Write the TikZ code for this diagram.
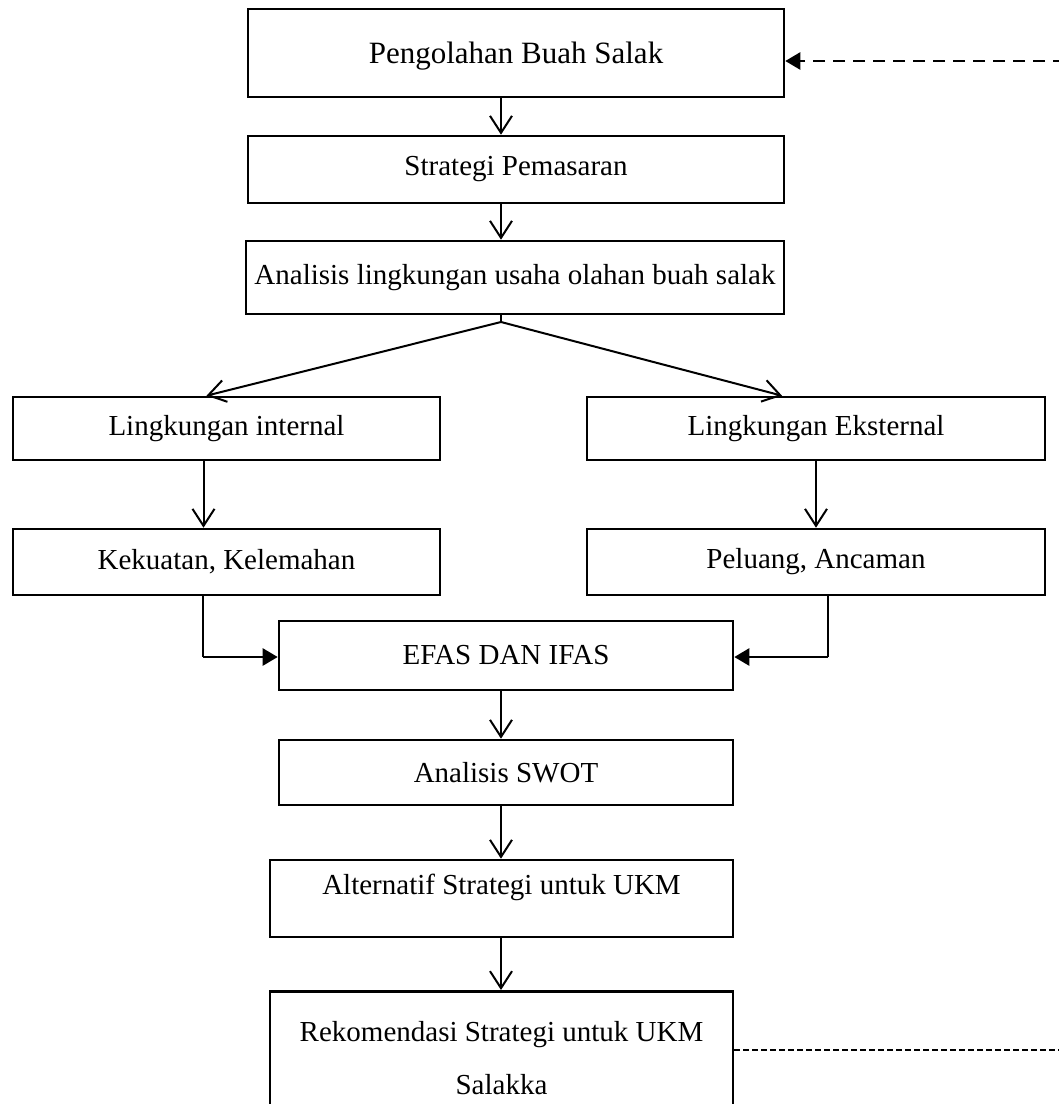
\documentclass[tikz,border=0pt]{standalone}
\usepackage{fontspec}
\setmainfont{Liberation Serif}
\usetikzlibrary{arrows.meta}

\begin{document}
\begin{tikzpicture}[
    x=1pt, y=-1pt,
    box/.style={rectangle, draw, line width=2.6pt, inner sep=0pt, font=\fontsize{29}{35}\selectfont},
    bigbox/.style={box, font=\fontsize{31}{37}\selectfont},
    arrow/.style={-{Straight Barb[length=17pt,width=22pt]}, line width=2pt},
    fillarrow/.style={-{Triangle[length=15pt,width=17pt]}, line width=2.6pt},
    feedback/.style={fillarrow, dash pattern=on 12pt off 8pt},
    link/.style={line width=1.5pt},
    dashlink/.style={line width=1.5pt, dash pattern=on 6pt off 3pt}
]
\useasboundingbox (0,0) rectangle (1059,1104);
\clip (0,0) rectangle (1059,1104);

% Define positions
\coordinate (axis) at (501,0);
\coordinate (split) at (501,322);
\coordinate (cl) at (203,657);
\coordinate (cr) at (828,657);
\coordinate (fbtop) at (1065,61);
\coordinate (fbbot) at (1065,1050);

% Main column
\node[bigbox, minimum width=536pt, minimum height=88pt, text depth=0pt] (olah) at (516,53) {Pengolahan Buah Salak};
\node[box, minimum width=536pt, minimum height=67pt] (strat) at (516,169.5) {Strategi Pemasaran};
\node[box, minimum width=538pt, minimum height=73pt] (anl) at (515,277.5) {Analisis lingkungan usaha olahan buah salak};

% Internal (left side)
\node[box, minimum width=427pt, minimum height=63pt] (intern) at (226.5,428.5) {Lingkungan internal};
\node[box, minimum width=427pt, minimum height=66pt] (kk) at (226.5,562) {Kekuatan, Kelemahan};
% External (right side)
\node[box, minimum width=458pt, minimum height=63pt] (ekstern) at (816,428.5) {Lingkungan Eksternal};
\node[box, minimum width=458pt, minimum height=66pt] (pa) at (816,562) {Peluang, Ancaman};

% Lower column
\node[box, minimum width=454pt, minimum height=69pt] (efas) at (506,655.5) {EFAS DAN IFAS};
\node[box, minimum width=454pt, minimum height=65pt] (swot) at (506,772.5) {Analisis SWOT};
\node[box, minimum width=463pt, minimum height=77pt, text depth=28pt] (alt) at (501.5,898.5) {Alternatif Strategi untuk UKM};
\node[box, minimum width=463pt, minimum height=134pt, anchor=north, align=center,
      font=\fontsize{29}{53}\selectfont] (rekom) at (501.5,990) {Rekomendasi Strategi untuk UKM\\Salakka};

% Arrows down the main column
\draw[arrow] (olah.south -| axis) -- (strat.north -| axis);
\draw[arrow] (strat.south -| axis) -- (anl.north -| axis);
\draw[link] (anl.south -| axis) -- (split);
\draw[arrow] (split) -- ([xshift=-20pt]intern.north);
\draw[arrow] (split) -- ([xshift=-34pt]ekstern.north);
\draw[arrow] ([xshift=-23pt]intern.south) -- ([xshift=-23pt]kk.north);
\draw[arrow] (ekstern.south) -- (pa.north);

% Into EFAS and IFAS
\draw[link] (kk.south -| cl) -- (cl);
\draw[fillarrow] (cl) -- (efas.west |- cl);
\draw[link] (pa.south -| cr) -- (cr);
\draw[fillarrow] (cr) -- (efas.east |- cr);

\draw[arrow] (efas.south -| axis) -- (swot.north -| axis);
\draw[arrow] (swot.south -| axis) -- (alt.north -| axis);
\draw[arrow] (alt.south -| axis) -- (rekom.north -| axis);

% Feedback loop
\draw[dashlink] ([yshift=-60pt]rekom.north east) -- (fbbot);
\draw[feedback] (fbtop) -- (olah.east |- fbtop);
\end{tikzpicture}
\end{document}
